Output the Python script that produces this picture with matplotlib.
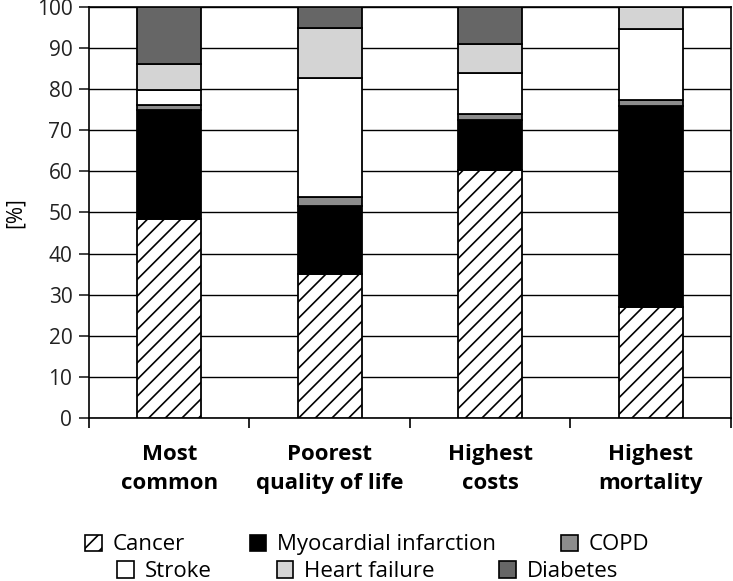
import matplotlib
matplotlib.use("Agg")
import matplotlib.pyplot as plt
from matplotlib.patches import Patch
import numpy as np

plt.rcParams["font.family"] = ["Open Sans", "DejaVu Sans"]
plt.rcParams["hatch.linewidth"] = 1.2

# Gegevens (percentages per categorie)
categories = ["Most\ncommon", "Poorest\nquality of life", "Highest\ncosts", "Highest\nmortality"]
series_names = ["Cancer", "Myocardial infarction", "COPD", "Stroke", "Heart failure", "Diabetes"]
cancer = [48.5, 35.0, 60.3, 27.0]
myocardial = [26.5, 16.5, 12.2, 49.0]
copd = [1.2, 2.3, 1.5, 1.4]
stroke = [3.5, 29.0, 9.9, 17.3]
heart_failure = [6.4, 12.0, 7.1, 5.3]
diabetes = [13.9, 5.2, 9.0, 0.0]

series = [cancer, myocardial, copd, stroke, heart_failure, diabetes]
colors = ["white", "black", "#8c8c8c", "white", "#d4d4d4", "#666666"]
hatches = ["//", None, None, None, None, None]

fig = plt.figure(figsize=(7.33, 5.81), dpi=100)
ax = fig.add_axes([0.1214, 0.2806, 0.8758, 0.7074])

x = np.arange(len(categories))
bottom = np.zeros(len(categories))
for vals, col, h in zip(series, colors, hatches):
    ax.bar(x, vals, width=0.4, bottom=bottom, color=col, edgecolor="black",
           linewidth=1.3, hatch=h, zorder=3)
    bottom += np.array(vals)

# Opmaak assen
ax.set_ylim(0, 100)
ax.set_xlim(-0.5, 3.5)
ax.set_yticks(range(0, 101, 10))
ax.yaxis.grid(True, color="black", linewidth=1.0, zorder=0)
ax.tick_params(axis="y", direction="out", length=7, width=1.2, pad=5, labelsize=15, colors="#222222")
ax.set_xticks(x)
ax.set_xticklabels(categories, fontsize=16, fontweight="bold", linespacing=1.5)
ax.tick_params(axis="x", which="major", length=0, pad=19)
ax.set_xticks([-0.5, 0.5, 1.5, 2.5, 3.5], minor=True)
ax.tick_params(axis="x", which="minor", direction="out", length=7, width=1.2)
for s in ax.spines.values():
    s.set_linewidth(1.2)
ax.set_ylabel("[%]", fontsize=15, labelpad=8)

# Legenda in twee rijen
handles = [Patch(facecolor=c, edgecolor="black", hatch=h, linewidth=1.2)
           for c, h in zip(colors, hatches)]
fig.legend(handles[:3], series_names[:3], ncol=3, loc="center",
           bbox_to_anchor=(0.501, 0.062), frameon=False, fontsize=16,
           columnspacing=2.9, handlelength=0.75, handleheight=0.75,
           handletextpad=0.5, borderpad=0)
fig.legend(handles[3:], series_names[3:], ncol=3, loc="center",
           bbox_to_anchor=(0.502, 0.016), frameon=False, fontsize=16,
           columnspacing=2.9, handlelength=0.75, handleheight=0.75,
           handletextpad=0.5, borderpad=0)

fig.savefig("out.png", dpi=100)
